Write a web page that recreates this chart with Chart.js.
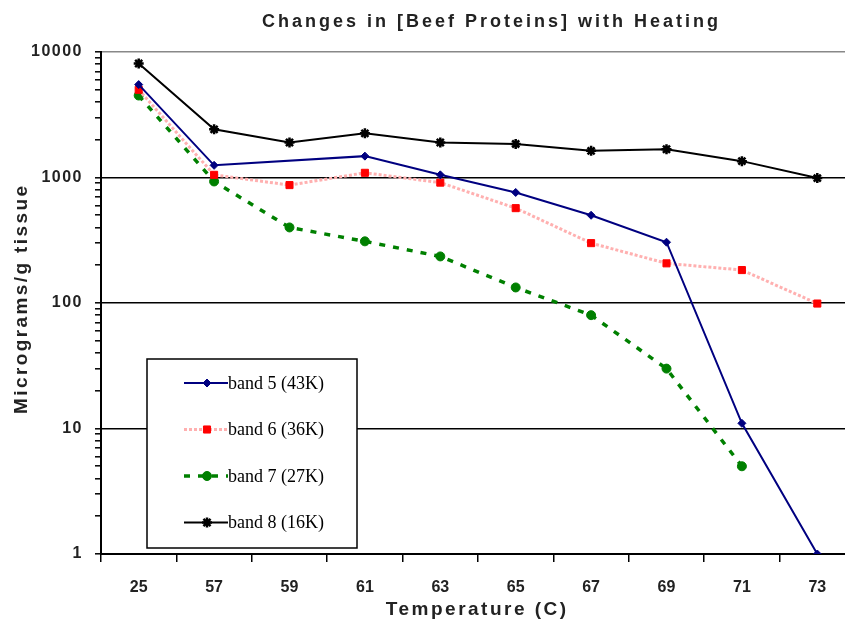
<!DOCTYPE html>
<html>
<head>
<meta charset="utf-8">
<script src="https://cdn.jsdelivr.net/npm/chart.js@4/dist/chart.umd.min.js"></script>
<style>
  html, body { margin: 0; padding: 0; background: #fff; overflow: hidden; }
  #wrap { width: 870px; height: 626px; }
</style>
</head>
<body>
<div id="wrap"><canvas id="heatChart" width="870" height="626"></canvas></div>
<script>
const temperatures = ["25", "57", "59", "61", "63", "65", "67", "69", "71", "73"];
const band5 = [5500, 1250, null, 1480, 1050, 760, 500, 305, 11, 1];
const band6 = [5000, 1050, 870, 1090, 910, 570, 300, 207, 183, 99];
const band7 = [4500, 930, 400, 310, 235, 133, 80, 30, 5, null];
const band8 = [8100, 2420, 1900, 2250, 1900, 1850, 1630, 1680, 1350, 990];
const bandNames = ["band 5 (43K)", "band 6 (36K)", "band 7 (27K)", "band 8 (16K)"];
const yTicks = [1, 2, 3, 4, 5, 6, 7, 8, 9, 10, 20, 30, 40, 50, 60, 70, 80, 90,
  100, 200, 300, 400, 500, 600, 700, 800, 900,
  1000, 2000, 3000, 4000, 5000, 6000, 7000, 8000, 9000, 10000];

const sansFamily = "'Liberation Sans', Arial, sans-serif";
const axisFont = { family: sansFamily, weight: "bold", size: 16 };
const isDecade = v => Math.abs(Math.log10(v) - Math.round(Math.log10(v))) < 1e-9;

function spacedText(ctx, text, x, y, font, spacing, angle) {
    ctx.save();
    ctx.translate(x, y);
    ctx.rotate(angle || 0);
    ctx.font = font;
    ctx.letterSpacing = spacing + "px";
    ctx.fillStyle = "#222";
    ctx.textAlign = "center";
    ctx.textBaseline = "middle";
    // trailing letter spacing would push the text off centre
    ctx.fillText(text, spacing / 2, 0);
    ctx.restore();
}

// y tick labels get wide tracking (x labels are drawn later, on a higher layer, without it);
// title, axis titles and the boxed legend are painted by hand
const decorPlugin = {
    id: "decor",
    beforeDraw(chart) {
        chart.ctx.letterSpacing = "1.5px";
    },
    beforeDatasetsDraw(chart) {
        chart.ctx.letterSpacing = "0px";
    },
    afterDraw(chart) {
        const ctx = chart.ctx;
        const area = chart.chartArea;
        ctx.letterSpacing = "0px";
        spacedText(ctx, "Changes in [Beef Proteins] with Heating", 490, 22,
            "bold 18px " + sansFamily, 3, 0);
        spacedText(ctx, "Temperature (C)", (area.left + area.right) / 2 - 2, 610,
            "bold 19px " + sansFamily, 2.5, 0);
        spacedText(ctx, "Micrograms/g tissue", 22, 300,
            "bold 19px " + sansFamily, 2.4, -Math.PI / 2);

        ctx.save();
        ctx.fillStyle = "#fff";
        ctx.fillRect(147, 359, 210, 189);
        ctx.lineWidth = 1.5;
        ctx.strokeStyle = "#000";
        ctx.strokeRect(147, 359, 210, 189);

        chart.data.datasets.forEach((ds, i) => {
            const y = 383 + i * 46.5;
            ctx.save();
            ctx.strokeStyle = ds.borderColor;
            ctx.lineWidth = ds.borderWidth;
            ctx.setLineDash(ds.borderDash || []);
            ctx.beginPath();
            ctx.moveTo(184, y);
            ctx.lineTo(228, y);
            ctx.stroke();
            ctx.setLineDash([]);
            ctx.fillStyle = ds.pointBackgroundColor;
            ctx.strokeStyle = ds.pointBorderColor;
            ctx.lineWidth = ds.pointBorderWidth;
            Chart.helpers.drawPoint(ctx, {
                pointStyle: ds.pointStyle,
                radius: ds.pointRadius,
                rotation: 0,
                borderWidth: ds.pointBorderWidth
            }, 207, y);
            ctx.restore();
            ctx.fillStyle = "#000";
            ctx.font = "18px 'Liberation Serif', 'Times New Roman', serif";
            ctx.textAlign = "left";
            ctx.textBaseline = "middle";
            ctx.fillText(ds.label, 228, y + 1);
        });
        ctx.restore();
    }
};

new Chart(document.getElementById("heatChart"), {
    type: "line",
    data: {
        labels: temperatures,
        datasets: [{
            label: bandNames[0],
            data: band5,
            borderColor: "#000080",
            borderWidth: 2,
            pointStyle: "rectRot",
            pointRadius: 4,
            pointBackgroundColor: "#000080",
            pointBorderColor: "#000080",
            pointBorderWidth: 1,
            spanGaps: true
        }, {
            label: bandNames[1],
            data: band6,
            borderColor: "#ffb0b0",
            borderWidth: 3,
            borderDash: [3, 2],
            pointStyle: "rect",
            pointRadius: 5,
            pointBackgroundColor: "#ff0000",
            pointBorderColor: "#ff0000",
            pointBorderWidth: 1
        }, {
            label: bandNames[2],
            data: band7,
            borderColor: "#008000",
            borderWidth: 3.5,
            borderDash: [6, 8],
            pointStyle: "circle",
            pointRadius: 4.5,
            pointBackgroundColor: "#008000",
            pointBorderColor: "#008000",
            pointBorderWidth: 1
        }, {
            label: bandNames[3],
            data: band8,
            borderColor: "#000000",
            borderWidth: 2,
            pointStyle: "star",
            pointRadius: 5,
            pointBackgroundColor: "#000000",
            pointBorderColor: "#000000",
            pointBorderWidth: 2.5
        }]
    },
    options: {
        responsive: false,
        animation: false,
        layout: { padding: { left: 0, top: 52, right: 15, bottom: 0 } },
        elements: { line: { tension: 0 } },
        plugins: {
            legend: { display: false },
            title: { display: false },
            tooltip: { enabled: false }
        },
        scales: {
            x: {
                offset: true,
                grid: {
                    offset: true,
                    drawOnChartArea: false,
                    color: "#000",
                    tickColor: "#000",
                    tickLength: 8,
                    lineWidth: 1.5
                },
                border: { color: "#000", width: 2 },
                ticks: { z: 1, color: "#222", font: axisFont, padding: 16, maxRotation: 0 },
                afterFit(scale) { scale.height = 72; }
            },
            y: {
                type: "logarithmic",
                min: 1,
                max: 10000,
                afterBuildTicks(scale) {
                    scale.ticks = yTicks.map(v => ({ value: v, major: isDecade(v) }));
                },
                grid: {
                    color(ctx) {
                        const v = ctx.tick ? ctx.tick.value : 0;
                        if (!isDecade(v) || v === 1) return "rgba(0,0,0,0)";
                        return v === 10000 ? "#888" : "#000";
                    },
                    lineWidth: 1.6,
                    tickColor: "#000",
                    tickLength: 6,
                    tickWidth: 1.5
                },
                border: { color: "#000", width: 2 },
                ticks: {
                    autoSkip: false,
                    color: "#222",
                    font: axisFont,
                    padding: 12,
                    callback: v => isDecade(v) ? String(v) : ""
                },
                afterFit(scale) { scale.width = 101; }
            }
        }
    },
    plugins: [decorPlugin]
});
</script>
</body>
</html>
